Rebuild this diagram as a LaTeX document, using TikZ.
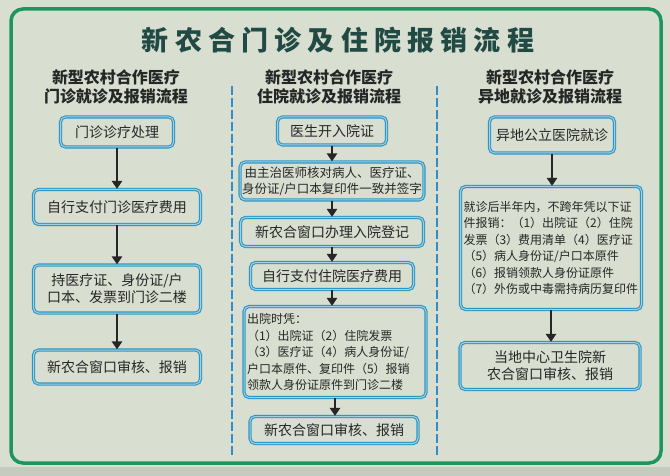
\documentclass[tikz,border=0pt]{standalone}
\usepackage{fontspec}
\setmainfont{Noto Sans CJK SC}
\usetikzlibrary{arrows.meta,positioning}
\definecolor{panel}{RGB}{216,222,208}
\definecolor{rim}{RGB}{28,150,92}
\definecolor{boxblue}{RGB}{46,150,196}
\definecolor{lineblue}{RGB}{52,140,200}
\definecolor{titleink}{RGB}{34,74,68}
\definecolor{ink}{RGB}{38,38,38}
\tikzset{
  stepbox/.style  = {draw=boxblue, line width=1.1pt, double=boxblue!45!white,
                     double distance=1pt, rounded corners=5pt, fill=panel,
                     align=center, inner sep=2pt, text=ink,
                     font=\fontsize{14}{17}\selectfont},
  notebox/.style  = {stepbox, align=left, inner sep=3pt,
                     font=\fontsize{12}{16.5}\selectfont},
  colhead/.style  = {font=\bfseries\fontsize{16}{19}\selectfont, align=center, text=ink},
  flow/.style     = {-{Triangle[length=8pt,width=10pt]}, line width=2.6pt, draw=ink},
  divider/.style  = {draw=lineblue, line width=2pt, dash pattern=on 9pt off 3pt},
}

\begin{document}
\begin{tikzpicture}[x=1pt,y=-1pt]
  \useasboundingbox (0,0) rectangle (670,476);
  \fill[panel] (0,0) rectangle (670,476);
  \fill[panel!80!gray] (0,467) rectangle (670,476);
  \draw[rim, line width=3.5pt, rounded corners=12pt] (11,9) rectangle (661,463);

  % title and column heads
  \node[text=titleink, font=\bfseries\fontsize{27}{30}\selectfont\addfontfeature{LetterSpace=23}]
    (title) at (338,40) {新农合门诊及住院报销流程};
  \node[colhead] (head1) at (116,87) {新型农村合作医疗\\门诊就诊及报销流程};
  \node[colhead] (head2) at (329,87) {新型农村合作医疗\\住院就诊及报销流程};
  \node[colhead] (head3) at (550,87) {新型农村合作医疗\\异地就诊及报销流程};

  \coordinate (d1top) at (232,86);  \coordinate (d1bot) at (232,455);
  \coordinate (d2top) at (437,86);  \coordinate (d2bot) at (437,455);
  \draw[divider] (d1top) -- (d1bot);
  \draw[divider] (d2top) -- (d2bot);

  % outpatient
  \node[stepbox, minimum width=113pt, minimum height=30pt] (out1) at (117,132) {门诊诊疗处理};
  \node[stepbox, minimum width=167pt, minimum height=35pt] (out2) at (117,207) {自行支付门诊医疗费用};
  \node[stepbox, minimum width=167pt, minimum height=48pt] (out3) at (117,289)
    {持医疗证、身份证/户\\口本、发票到门诊二楼};
  \node[stepbox, minimum width=167pt, minimum height=34pt] (out4) at (117,367) {新农合窗口审核、报销};

  % inpatient
  \node[stepbox, minimum width=109pt, minimum height=28pt] (in1) at (332,131) {医生开入院证};
  \node[stepbox, minimum width=183pt, minimum height=38pt, font=\fontsize{12.5}{16}\selectfont]
    (in2) at (332,181) {由主治医师核对病人、医疗证、\\身份证/户口本复印件一致并签字};
  \node[stepbox, minimum width=183pt, minimum height=29pt] (in3) at (332,232) {新农合窗口办理入院登记};
  \node[stepbox, minimum width=163pt, minimum height=27pt] (in4) at (332,276) {自行支付住院医疗费用};
  \node[notebox, text width=176pt, minimum height=91pt] (in5) at (335,352)
    {出院时凭：\\（1）出院证（2）住院发票\\（3）医疗证（4）病人身份证/\\户口本原件、复印件（5）报销\\领款人身份证原件到门诊二楼};
  \node[stepbox, minimum width=168pt, minimum height=27pt] (in6) at (334,430) {新农合窗口审核、报销};

  % other region
  \node[stepbox, minimum width=125pt, minimum height=36pt] (far1) at (552,135) {异地公立医院就诊};
  \node[notebox, text width=175pt, minimum height=123pt] (far2) at (551,248)
    {就诊后半年内，不跨年凭以下证\\件报销：（1）出院证（2）住院\\发票（3）费用清单（4）医疗证\\（5）病人身份证/户口本原件\\（6）报销领款人身份证原件\\（7）外伤或中毒需持病历复印件};
  \node[stepbox, minimum width=180pt, minimum height=47pt] (far3) at (550,366)
    {当地中心卫生院新\\农合窗口审核、报销};

  \foreach \a/\b in {out1/out2,out2/out3,out3/out4,in1/in2,in2/in3,in3/in4,in4/in5,in5/in6,far1/far2,far2/far3}
    \draw[flow] (\a.south) -- (\a.south |- \b.north);
\end{tikzpicture}
\end{document}
